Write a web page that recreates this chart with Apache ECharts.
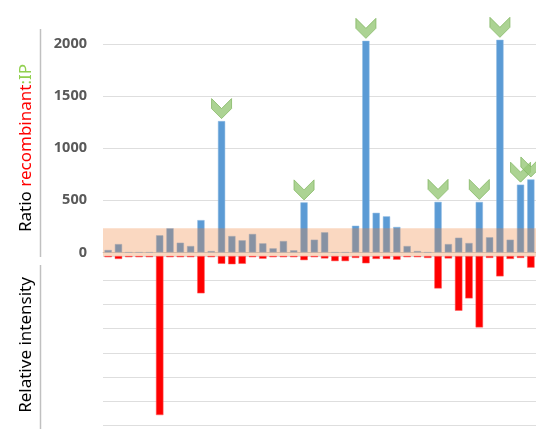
<!DOCTYPE html>
<html><head><meta charset="utf-8">
<script src="https://cdn.jsdelivr.net/npm/echarts@6/dist/echarts.min.js"></script>
<style>html,body{margin:0;padding:0;background:#fff}#c{width:536px;height:429px}</style>
</head><body><div id="c"></div>
<script>
const categories = ['P1','P2','P3','P4','P5','P6','P7','P8','P9','P10','P11','P12','P13','P14','P15','P16','P17','P18','P19','P20','P21','P22','P23','P24','P25','P26','P27','P28','P29','P30','P31','P32','P33','P34','P35','P36','P37','P38','P39','P40','P41','P42'];
const ratioValues = [23, 80, 0, 0, 0, 164, 231, 93, 61, 310, 13, 1260, 157, 116, 177, 87, 39, 109, 20, 480, 122, 193, 0, 0, 256, 2030, 380, 346, 244, 61, 13, 0, 485, 80, 141, 90, 484, 145, 2040, 122, 650, 700];
const intensityValues = [-5, -12, -5, -5, -5, -657, -5, -5, -5, -154, -5, -32, -34, -32, -5, -11, -5, -5, -5, -17, -5, -10, -21, -21, -8, -30, -12, -12, -15, -5, -5, -8, -134, -10, -226, -175, -295, -8, -84, -12, -8, -48];
const flaggedIndices = [11, 19, 25, 32, 36, 38, 40, 41];
const ratioTicks = [0, 500, 1000, 1500, 2000];
const bandRatio = [0, 231];
const bandIntensity = [0, 15];

const markerData = flaggedIndices.map(i => [categories[i], ratioValues[i]]);
const FONT = 'Noto Sans';
const chart = echarts.init(document.getElementById('c'), null, {renderer: 'canvas'});
chart.setOption({
  animation: false,
  backgroundColor: '#fff',
  grid: [
    {left: 103, right: 0, top: 44, height: 208.4},
    {left: 103, right: 0, top: 252.4, height: 173.1}
  ],
  xAxis: [
    {gridIndex: 0, type: 'category', data: categories, axisLine: {show: true, lineStyle: {color: '#d0d0d0', width: 1}}, axisTick: {show: false}, axisLabel: {show: false}},
    {gridIndex: 1, type: 'category', data: categories, axisLine: {show: false}, axisTick: {show: false}, axisLabel: {show: false}}
  ],
  yAxis: [
    {gridIndex: 0, type: 'value', min: ratioTicks[0], max: ratioTicks[ratioTicks.length - 1], interval: ratioTicks[1] - ratioTicks[0],
     axisLine: {show: false}, axisTick: {show: false},
     axisLabel: {margin: 16, color: '#595959', fontSize: 14.5, fontWeight: 'bold', fontFamily: FONT, formatter: v => String(v)},
     splitLine: {lineStyle: {color: '#dedede', width: 1}}},
    {gridIndex: 1, type: 'value', min: -700, max: 15, interval: 100,
     axisLine: {show: false}, axisTick: {show: false}, axisLabel: {show: false},
     splitLine: {lineStyle: {color: '#dedede', width: 1}}}
  ],
  series: [
    {type: 'bar', name: 'Ratio', xAxisIndex: 0, yAxisIndex: 0, data: ratioValues, barWidth: '70%', clip: false,
     itemStyle: {color: '#5B9BD5', borderColor: '#8fbbe3', borderWidth: 0.5}, z: 2,
     markArea: {silent: true, z: 5, itemStyle: {color: 'rgba(237,125,49,0.3)'}, data: [[{yAxis: bandRatio[0]}, {yAxis: bandRatio[1]}]]}},
    {type: 'scatter', name: 'Flag', xAxisIndex: 0, yAxisIndex: 0, data: markerData, clip: false, z: 6,
     symbol: 'path://M0,0 L10,10 L20,0 L20,10 L10,20 L0,10 Z', symbolSize: [20, 20], symbolOffset: [0, -12.5],
     itemStyle: {color: '#97C878', borderColor: '#84B865', borderWidth: 1}},
    {type: 'bar', name: 'Relative intensity', xAxisIndex: 1, yAxisIndex: 1, data: intensityValues, barWidth: '72%',
     itemStyle: {color: '#FF0000', borderColor: '#ff5a5a', borderWidth: 0.5}, z: 2,
     markArea: {silent: true, z: 5, itemStyle: {color: 'rgba(237,125,49,0.3)'}, data: [[{yAxis: bandIntensity[0]}, {yAxis: bandIntensity[1]}]]}}
  ],
  graphic: [
    {type: 'line', shape: {x1: 40.5, y1: 29, x2: 40.5, y2: 257}, style: {stroke: '#c0c0c0', lineWidth: 1.5}, silent: true},
    {type: 'line', shape: {x1: 40.5, y1: 265, x2: 40.5, y2: 429}, style: {stroke: '#c0c0c0', lineWidth: 1.5}, silent: true},
    {type: 'text', x: 26, y: 148, rotation: Math.PI / 2,
     style: {text: '{a|Ratio }{b|recombinant}{c|:IP}', font: '17px "Noto Sans"', align: 'center', verticalAlign: 'middle', textAlign: 'center', textVerticalAlign: 'middle',
       rich: {a: {fill: '#000', font: '17px "Noto Sans"'}, b: {fill: '#FF0000', font: '17px "Noto Sans"'}, c: {fill: '#92D050', font: '17px "Noto Sans"'}}}},
    {type: 'text', x: 26, y: 345, rotation: Math.PI / 2,
     style: {text: 'Relative intensity', font: '17px "Noto Sans"', fill: '#000', align: 'center', verticalAlign: 'middle', textAlign: 'center', textVerticalAlign: 'middle'}}
  ]
});
</script></body></html>
